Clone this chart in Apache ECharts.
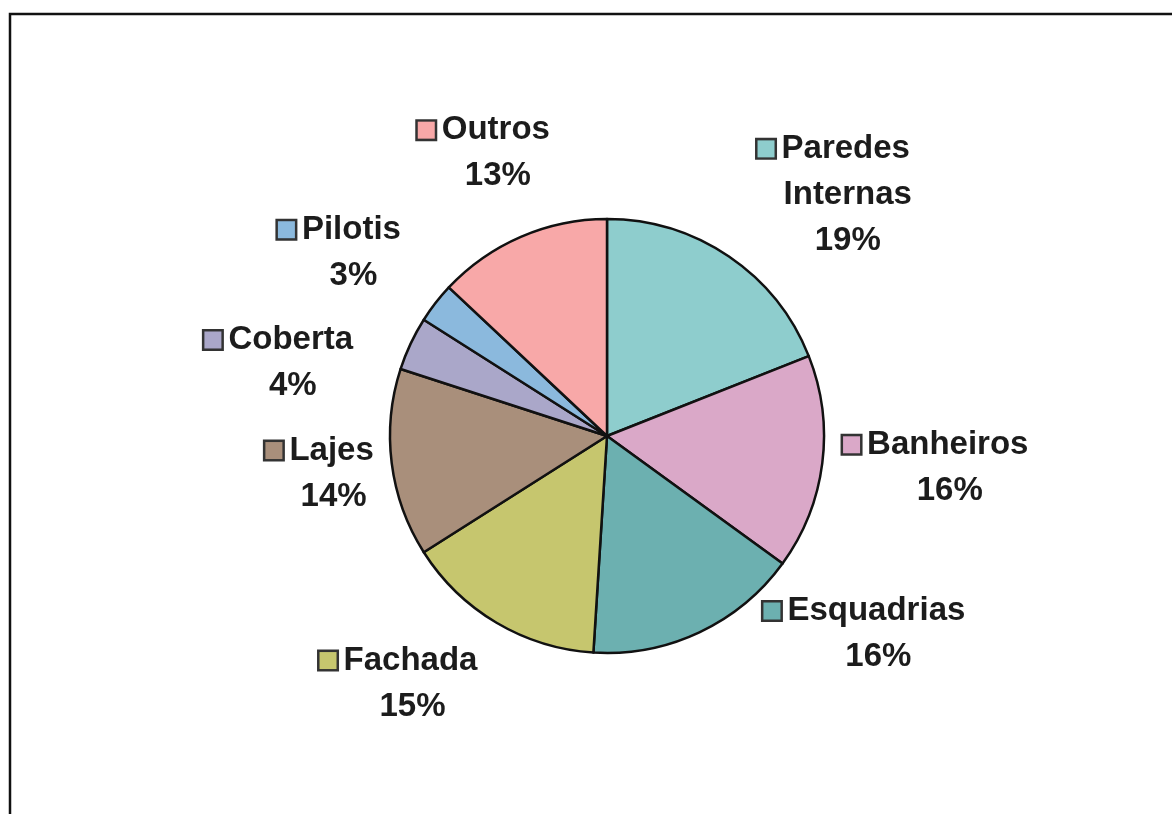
<!DOCTYPE html>
<html>
<head>
<meta charset="utf-8">
<script src="https://cdn.jsdelivr.net/npm/echarts@6/dist/echarts.min.js"></script>
<style>
html,body{margin:0;padding:0;background:#fff;}
#c{width:1172px;height:814px;}
</style>
</head>
<body>
<div id="c"></div>
<script>
// Data
const categories = ['Paredes\nInternas', 'Banheiros', 'Esquadrias', 'Fachada', 'Lajes', 'Coberta', 'Pilotis', 'Outros'];
const values = [19, 16, 16, 15, 14, 4, 3, 13];

// Styles
const colors = ['#8ecdcd', '#daa8c8', '#6cb0b0', '#c6c66e', '#a98f7b', '#aaa7c9', '#8bb9dd', '#f8a8a8'];
// Label layout (best-fit placement): angle shift from slice middle (deg) and radius factor
const labelAngleShift = [10.4, -2.4, -29.1, 7.9, 0, -11.6, -1.5, 2.5];
const labelRadiusFactor = [1.58, 1.585, 1.54, 1.44, 1.27, 1.49, 1.45, 1.41];

const CX = 607, CY = 436, R = 217;
const total = values.reduce((a, b) => a + b, 0);
const midAngles = [];
let acc = 0;
values.forEach(v => { midAngles.push((acc + v / 2) / total * 360); acc += v; });

const chart = echarts.init(document.getElementById('c'));
const rich = {
  g: { width: 7 },
  sp: { width: 28 },
  name: { fontFamily: 'Liberation Sans', fontWeight: 'bold', fontSize: 33, color: '#1c1c1c', lineHeight: 46 },
  pct: { fontFamily: 'Liberation Sans', fontWeight: 'bold', fontSize: 33, color: '#1c1c1c', lineHeight: 46 }
};
colors.forEach((c, i) => {
  rich['sq' + i] = { width: 17, height: 17, backgroundColor: c, borderColor: '#333', borderWidth: 2.5 };
});

chart.setOption({
  animation: false,
  backgroundColor: '#fff',
  graphic: [{
    type: 'polyline',
    shape: { points: [[10, 814], [10, 14], [1172, 14]] },
    style: { stroke: '#111', lineWidth: 2.5, fill: null }
  }],
  series: [{
    type: 'pie',
    center: [CX, CY],
    radius: R,
    startAngle: 90,
    clockwise: true,
    avoidLabelOverlap: false,
    itemStyle: { borderColor: '#111', borderWidth: 2.5 },
    labelLine: { show: false },
    label: {
      show: true,
      position: 'outside',
      formatter: function (p) {
        const lines = p.name.split('\n');
        let s = '{sq' + p.dataIndex + '|}{g|}{name|' + lines[0] + '}{sp|}';
        for (let k = 1; k < lines.length; k++) s += '\n{name|' + lines[k] + '}';
        s += '\n{pct|' + p.value + '%}';
        return s;
      },
      rich: rich,
      align: 'center'
    },
    labelLayout: function (params) {
      const i = params.dataIndex;
      const a = (midAngles[i] + labelAngleShift[i]) * Math.PI / 180;
      const r = R * labelRadiusFactor[i];
      return {
        x: CX + r * Math.sin(a),
        y: CY - r * Math.cos(a) + 3,
        align: 'center',
        verticalAlign: 'middle'
      };
    },
    data: categories.map((n, i) => ({ name: n, value: values[i], itemStyle: { color: colors[i] } }))
  }]
});
</script>
</body>
</html>
